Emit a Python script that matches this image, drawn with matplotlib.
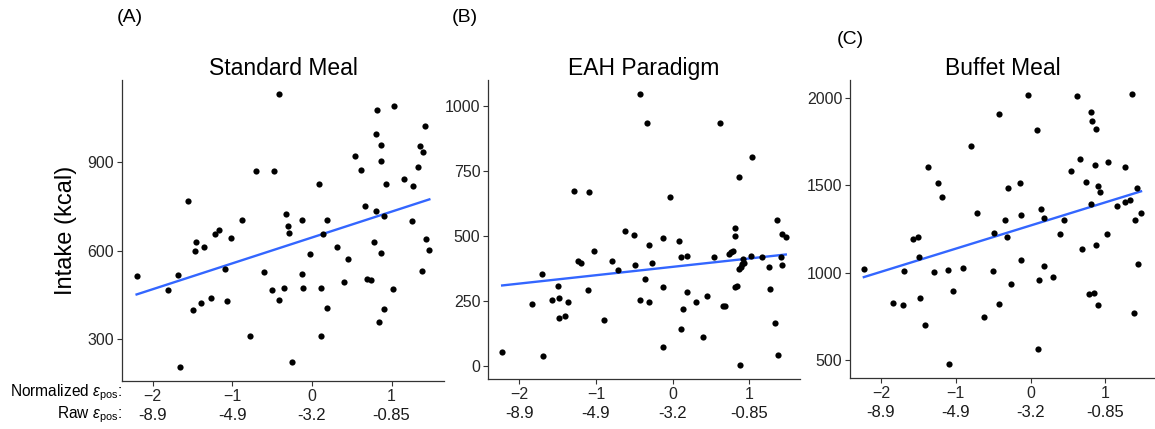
import matplotlib
matplotlib.use('Agg')
import matplotlib.pyplot as plt
import numpy as np

plt.rcParams['font.family'] = ['Liberation Sans', 'DejaVu Sans']
plt.rcParams['mathtext.fontset'] = 'custom'
plt.rcParams['mathtext.rm'] = 'Liberation Sans'
plt.rcParams['mathtext.it'] = 'Liberation Sans:italic'

# panel A: standard meal
std_x = [-2.20, -1.81, -1.675, -1.66, -1.55, -1.49, -1.47, -1.45, -1.39, -1.35,
         -1.27, -1.22, -1.17, -1.09, -1.07, -1.02, -0.88, -0.78, -0.70, -0.60,
         -0.50, -0.48, -0.41, -0.41, -0.35, -0.33, -0.30, -0.29, -0.25, -0.12,
         -0.12, -0.11, -0.025, 0.096, 0.11, 0.12, 0.14, 0.19, 0.19, 0.31,
         0.40, 0.45, 0.54, 0.62, 0.67, 0.69, 0.74, 0.78, 0.80, 0.81,
         0.82, 0.84, 0.87, 0.87, 0.87, 0.90, 0.91, 0.93, 1.025, 1.035,
         1.16, 1.26, 1.27, 1.33, 1.36, 1.38, 1.40, 1.42, 1.43, 1.475]
std_y = [513, 467, 517, 205, 767, 400, 600, 630, 421, 613,
         440, 657, 670, 537, 429, 642, 704, 310, 870, 528,
         466, 869, 1131, 433, 475, 724, 684, 659, 224, 704,
         521, 473, 589, 826, 473, 310, 656, 704, 406, 613,
         493, 573, 919, 872, 752, 505, 501, 629, 996, 734,
         1077, 357, 904, 593, 957, 402, 718, 827, 469, 1091,
         843, 700, 819, 883, 953, 532, 932, 1020, 639, 603]

# panel B: EAH paradigm
eah_x = [-2.226, -1.84, -1.70, -1.69, -1.574, -1.50, -1.49, -1.48, -1.41, -1.37,
         -1.29, -1.24, -1.19, -1.10, -1.087, -1.03, -0.90, -0.796, -0.717, -0.617,
         -0.504, -0.487, -0.42, -0.42, -0.357, -0.339, -0.313, -0.304, -0.265, -0.13,
         -0.126, -0.12, -0.03, 0.087, 0.104, 0.113, 0.13, 0.183, 0.183, 0.30,
         0.396, 0.452, 0.543, 0.617, 0.657, 0.69, 0.74, 0.757, 0.783, 0.809,
         0.813, 0.813, 0.839, 0.865, 0.865, 0.874, 0.887, 0.909, 0.913, 0.926,
         1.026, 1.039, 1.165, 1.26, 1.27, 1.335, 1.365, 1.383, 1.413, 1.426,
         1.435, 1.478]
eah_y = [52, 237, 353, 37, 252, 306, 261, 182, 189, 244,
         670, 402, 396, 289, 668, 439, 176, 404, 366, 517,
         504, 385, 1046, 253, 335, 931, 462, 243, 393, 302,
         72, 492, 648, 480, 141, 418, 217, 423, 284, 246,
         110, 267, 419, 931, 229, 228, 428, 435, 442, 529,
         499, 303, 308, 724, 372, 1, 380, 389, 410, 394,
         423, 803, 417, 380, 295, 165, 560, 41, 419, 386,
         506, 495]

# panel C: buffet meal
buf_x = [-2.23, -1.84, -1.70, -1.687, -1.578, -1.504, -1.496, -1.478, -1.413, -1.37,
         -1.287, -1.235, -1.187, -1.104, -1.087, -1.035, -0.90, -0.796, -0.717, -0.617,
         -0.504, -0.491, -0.426, -0.422, -0.339, -0.317, -0.304, -0.265, -0.135, -0.13,
         -0.122, -0.035, 0.087, 0.104, 0.113, 0.135, 0.178, 0.183, 0.30, 0.40,
         0.448, 0.543, 0.617, 0.665, 0.691, 0.743, 0.778, 0.804, 0.809, 0.822,
         0.843, 0.865, 0.874, 0.874, 0.90, 0.904, 0.93, 1.026, 1.035, 1.161,
         1.257, 1.265, 1.33, 1.361, 1.383, 1.404, 1.426, 1.435, 1.478]
buf_y = [1023, 826, 815, 1008, 1192, 1202, 1090, 855, 701, 1602,
         1004, 1513, 1433, 1014, 477, 898, 1025, 1721, 1340, 745,
         1008, 1230, 1905, 822, 1304, 1204, 1484, 938, 1511, 1329,
         1075, 2015, 1814, 564, 959, 1365, 1312, 1037, 974, 1219,
         1300, 1581, 2011, 1649, 1137, 1516, 877, 1915, 1391, 1865,
         885, 1613, 1822, 1158, 817, 1497, 1460, 1224, 1632, 1382,
         1403, 1604, 1414, 2023, 773, 1302, 1482, 1052, 1340]

norm_ticks = [-2, -1, 0, 1]
raw_labels = ['-8.9', '-4.9', '-3.2', '-0.85']

panels = [
    ('Standard Meal', std_x, std_y, [300, 600, 900], [0.1056, 0.1119, 0.2788, 0.7016]),
    ('EAH Paradigm', eah_x, eah_y, [0, 250, 500, 750, 1000], [0.4225, 0.1166, 0.2701, 0.6970]),
    ('Buffet Meal', buf_x, buf_y, [500, 1000, 1500, 2000], [0.7359, 0.1189, 0.2640, 0.6946]),
]

fig = plt.figure(figsize=(11.55, 4.29), dpi=100)

for title, xs, ys, yticks, rect in panels:
    ax = fig.add_axes(rect)
    xs = np.array(xs)
    ys = np.array(ys)
    ax.scatter(xs, ys, s=20, color='black', zorder=3, linewidths=0)
    slope, icpt = np.polyfit(xs, ys, 1)
    xl = np.array([xs.min(), xs.max()])
    ax.plot(xl, icpt + slope * xl, color='#3366FF', lw=1.7, zorder=2)

    pad_x = 0.05 * (xs.max() - xs.min())
    pad_y = 0.05 * (ys.max() - ys.min())
    ax.set_xlim(xs.min() - pad_x, xs.max() + pad_x)
    ax.set_ylim(ys.min() - pad_y, ys.max() + pad_y)
    ax.set_xticks(norm_ticks)
    ax.set_xticklabels(['\u22122', '\u22121', '0', '1'])
    ax.set_yticks(yticks)
    ax.tick_params(labelsize=11.5, colors='#333333', length=3.5, width=0.8, pad=2)
    ax.tick_params(labelcolor='#262626')
    for s in ['top', 'right']:
        ax.spines[s].set_visible(False)
    for s in ['left', 'bottom']:
        ax.spines[s].set_color('#333333')
        ax.spines[s].set_linewidth(0.9)
    ax.set_title(title, fontsize=16.5, pad=3)

    # second row of x labels with raw values
    for t, lab in zip(norm_ticks, raw_labels):
        ax.annotate(lab, xy=(t, 0), xycoords=('data', 'axes fraction'),
                    xytext=(0, -25), textcoords='offset points',
                    ha='center', va='center', fontsize=12, color='#1a1a1a')

    if title == 'Standard Meal':
        ax.set_ylabel('Intake (kcal)', fontsize=17, labelpad=8)

fig.text(122 / 1155, 1 - 393 / 429, r'Normalized $\varepsilon_{\mathrm{pos}}$:',
         ha='right', va='center', fontsize=11.2)
fig.text(122 / 1155, 1 - 415 / 429, r'Raw $\varepsilon_{\mathrm{pos}}$:',
         ha='right', va='center', fontsize=11.2)

fig.text(130 / 1155, 1 - 18 / 429, '(A)', ha='center', va='center', fontsize=14)
fig.text(465 / 1155, 1 - 18 / 429, '(B)', ha='center', va='center', fontsize=14)
fig.text(850 / 1155, 1 - 40 / 429, '(C)', ha='center', va='center', fontsize=14)

plt.savefig('out.png', dpi=100)
